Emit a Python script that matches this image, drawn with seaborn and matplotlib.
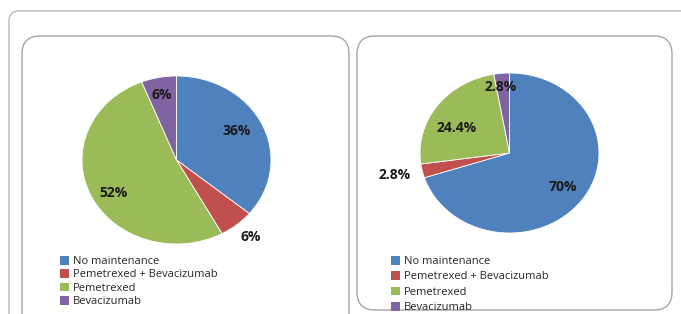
import numpy as np
import matplotlib
matplotlib.use("Agg")
import matplotlib.pyplot as plt
import seaborn as sns
from matplotlib.patches import FancyBboxPatch, Patch

sns.set_theme(style="white")
plt.rcParams['font.family'] = ['Open Sans', 'DejaVu Sans']

categories = ["No maintenance", "Pemetrexed + Bevacizumab", "Pemetrexed", "Bevacizumab"]
left_values = [36, 6, 52, 6]
left_labels = ["36%", "6%", "52%", "6%"]
right_values = [70, 2.8, 24.4, 2.8]
right_labels = ["70%", "2.8%", "24.4%", "2.8%"]

colors = ["#4F81BD", "#C0504D", "#9BBB59", "#8064A2"]

W, H = 681, 314
fig = plt.figure(figsize=(W / 100, H / 100), dpi=100)
fig.patch.set_facecolor("white")

# background axes in pixel units for the rounded boxes
bg = fig.add_axes([0, 0, 1, 1])
bg.set_xlim(0, W)
bg.set_ylim(H, 0)
bg.axis("off")

def rbox(x0, y0, x1, y1, r, color):
    bg.add_patch(FancyBboxPatch((x0, y0), x1 - x0, y1 - y0,
                                boxstyle=f"round,pad=0,rounding_size={r}",
                                fc="none", ec=color, lw=1.0))

rbox(9, 11, 700, 340, 10, "#B8B8B8")
rbox(22, 36, 349, 340, 18, "#A6A6A6")
rbox(357, 36, 672, 310, 18, "#A6A6A6")


def pie_axes(cx, cy, rx, ry):
    # the source image is stretched sideways, so the pies are slightly elliptical
    return fig.add_axes([(cx - rx) / W, (H - cy - ry) / H, 2 * rx / W, 2 * ry / H])


def draw_pie(ax, values, labels, dist, shift):
    wedges, _ = ax.pie(values, colors=colors, startangle=90, counterclock=False,
                       wedgeprops=dict(edgecolor="white", linewidth=0.6))
    for w, lab, d, s in zip(wedges, labels, dist, shift):
        ang = np.deg2rad((w.theta1 + w.theta2) / 2 + s)
        ax.text(d * np.cos(ang), d * np.sin(ang), lab, ha="center", va="center",
                fontsize=10, fontweight="bold", color="#1a1a1a", clip_on=False)
    ax.set_aspect("auto")
    ax.set_xlim(-1, 1)
    ax.set_ylim(-1, 1)
    ax.axis("off")


ax1 = pie_axes(176.5, 160, 94.5, 84)
draw_pie(ax1, left_values, left_labels, [0.72, 1.2, 0.77, 0.79], [3, 1, 5, 1])

ax2 = pie_axes(509.5, 153, 89.5, 80)
draw_pie(ax2, right_values, right_labels, [0.73, 1.31, 0.67, 0.83], [0, -1, 8, 2])

handles = [Patch(facecolor=c, edgecolor="none") for c in colors]
fig.legend(handles, categories, loc="upper left", bbox_to_anchor=(60 / W, 1 - 256 / H),
           frameon=False, fontsize=8, handlelength=0.8, handleheight=0.8,
           handletextpad=0.35, labelspacing=0.2, borderpad=0, borderaxespad=0)
fig.legend(handles, categories, loc="upper left", bbox_to_anchor=(391 / W, 1 - 256 / H),
           frameon=False, fontsize=8, handlelength=0.8, handleheight=0.8,
           handletextpad=0.35, labelspacing=0.38, borderpad=0, borderaxespad=0)

fig.savefig("out.png", dpi=100)
